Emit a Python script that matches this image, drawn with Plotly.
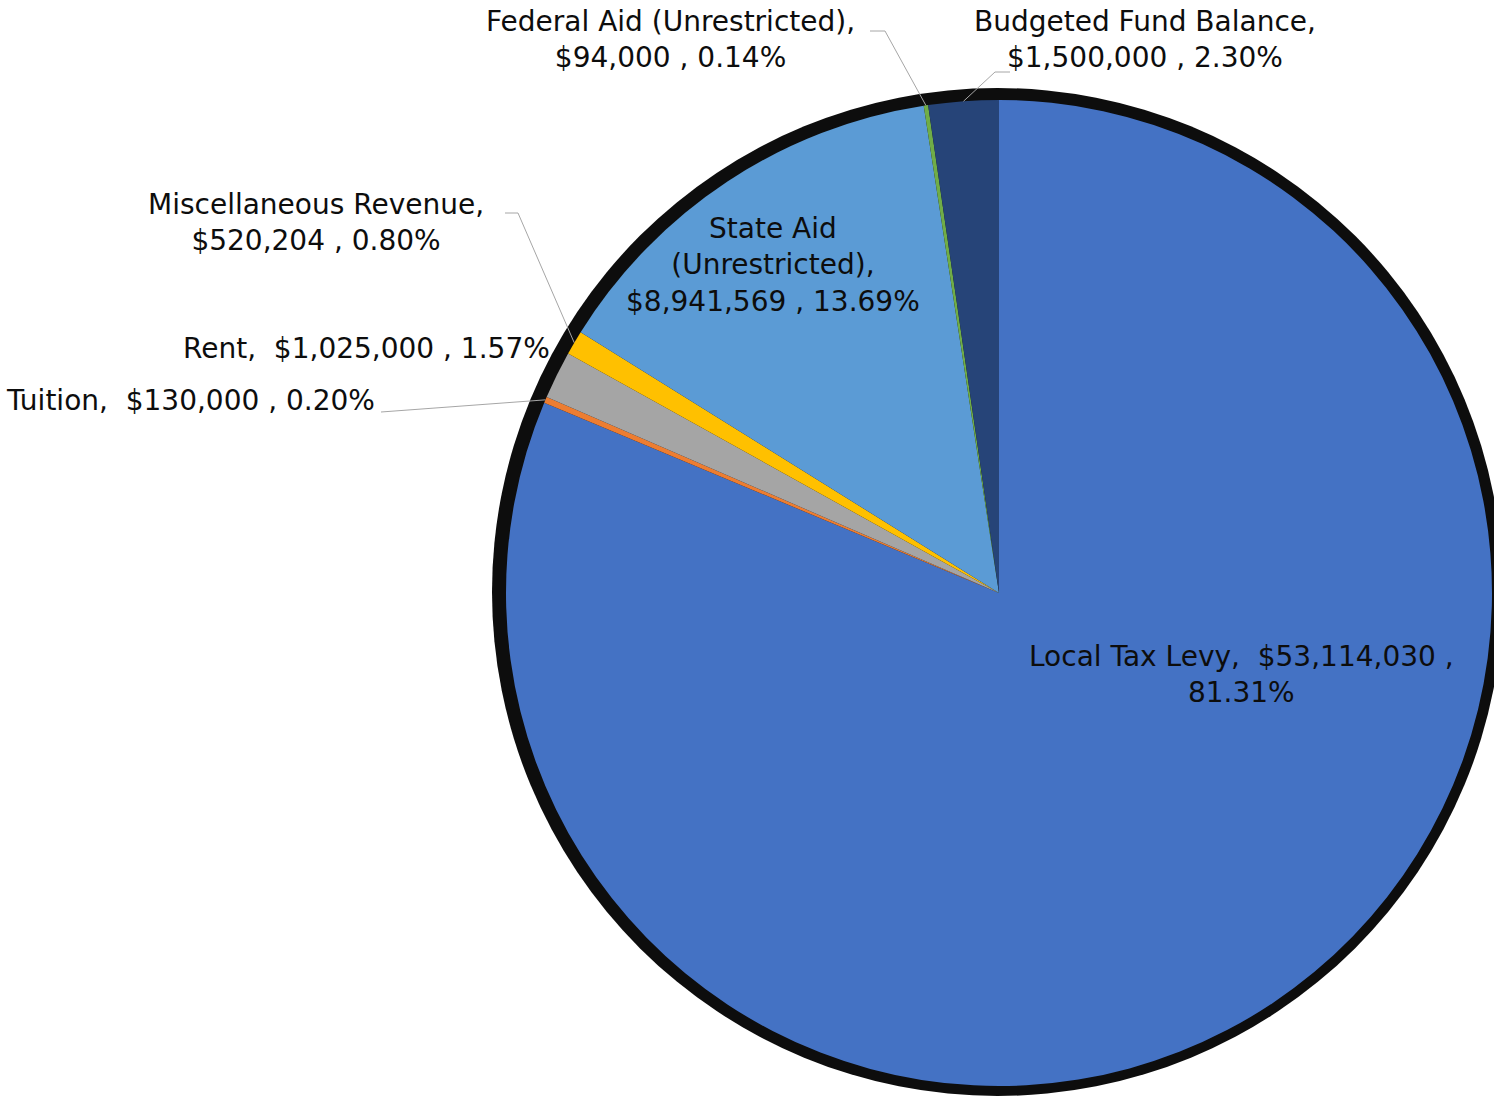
import math
import plotly.graph_objects as go

# ---- data ----
categories = ["Local Tax Levy", "Tuition", "Rent", "Miscellaneous Revenue",
              "State Aid (Unrestricted)", "Federal Aid (Unrestricted)", "Budgeted Fund Balance"]
values = [53114030, 130000, 1025000, 520204, 8941569, 94000, 1500000]
colors = ["#4472C4", "#ED7D31", "#A5A5A5", "#FFC000", "#5B9BD5", "#70AD47", "#264478"]

W, H = 1494, 1097
CX, CY, R = 999, 593, 493
FONT = "DejaVu Sans"
FS = 28

total = sum(values)
pcts = [v / total * 100 for v in values]


def money(v):
    return "${:,.0f}".format(v)


def px(x):
    return x / W


def py(y):
    return 1 - y / H


# mid-angle edge points from data (clockwise from 12 o'clock)
edge = []
cum = 0
for v in values:
    mid = (cum + v / 2) / total * 2 * math.pi
    edge.append((CX + R * math.sin(mid), CY - R * math.cos(mid)))
    cum += v

fig = go.Figure(go.Pie(
    labels=categories, values=values, sort=False, direction="clockwise", rotation=0,
    marker=dict(colors=colors, line=dict(width=0)),
    textinfo="none", hoverinfo="label+value+percent",
    domain=dict(x=[px(CX - R), px(CX + R)], y=[py(CY + R), py(CY - R)]),
    showlegend=False,
))

shapes = [dict(type="circle", xref="paper", yref="paper", layer="below",
               x0=px(CX - R - 14), x1=px(CX + R + 11), y0=py(CY + R + 10), y1=py(CY - R - 12),
               fillcolor="#0D0D0D", line=dict(width=0))]

lbl = {}
for i, c in enumerate(categories):
    lbl[i] = (money(values[i]), "{:.2f}%".format(pcts[i]))

annos = []


def add(text, x, y, xanchor="center", align="center"):
    annos.append(dict(text=text, x=px(x), y=py(y), xref="paper", yref="paper",
                      xanchor=xanchor, yanchor="middle", align=align, showarrow=False,
                      font=dict(family=FONT, size=FS, color="#0D0D0D")))


add(f"Local Tax Levy,  {lbl[0][0]} ,<br>{lbl[0][1]}", 1241, 674)
add(f"State Aid<br>(Unrestricted),<br>{lbl[4][0]} , {lbl[4][1]}", 773, 265)
add(f"Federal Aid (Unrestricted),<br>{lbl[5][0]} , {lbl[5][1]}", 670, 40)
add(f"Budgeted Fund Balance,<br>{lbl[6][0]} , {lbl[6][1]}", 1145, 40)
add(f"Miscellaneous Revenue,<br>{lbl[3][0]} , {lbl[3][1]}", 316, 223)
add(f"Rent,  {lbl[2][0]} , {lbl[2][1]}", 552, 348, xanchor="right")
add(f"Tuition,  {lbl[1][0]} , {lbl[1][1]}", 377, 400, xanchor="right")


def leader(points):
    d = "M " + " L ".join(f"{px(x)},{py(y)}" for x, y in points)
    shapes.append(dict(type="path", path=d, xref="paper", yref="paper",
                       line=dict(color="#A6A6A6", width=1)))


leader([(870, 31), (885, 31), edge[5]])
leader([(1010, 72), (995, 72), edge[6]])
leader([(505, 213), (518, 213), edge[3]])
leader([(381, 412), edge[1]])

fig.update_layout(width=W, height=H, margin=dict(l=0, r=0, t=0, b=0),
                  paper_bgcolor="white", plot_bgcolor="white",
                  shapes=shapes, annotations=annos)
fig.write_html("out.html", config={"displayModeBar": False},
               post_script="document.body.style.margin='0';document.body.style.overflow='hidden';")
